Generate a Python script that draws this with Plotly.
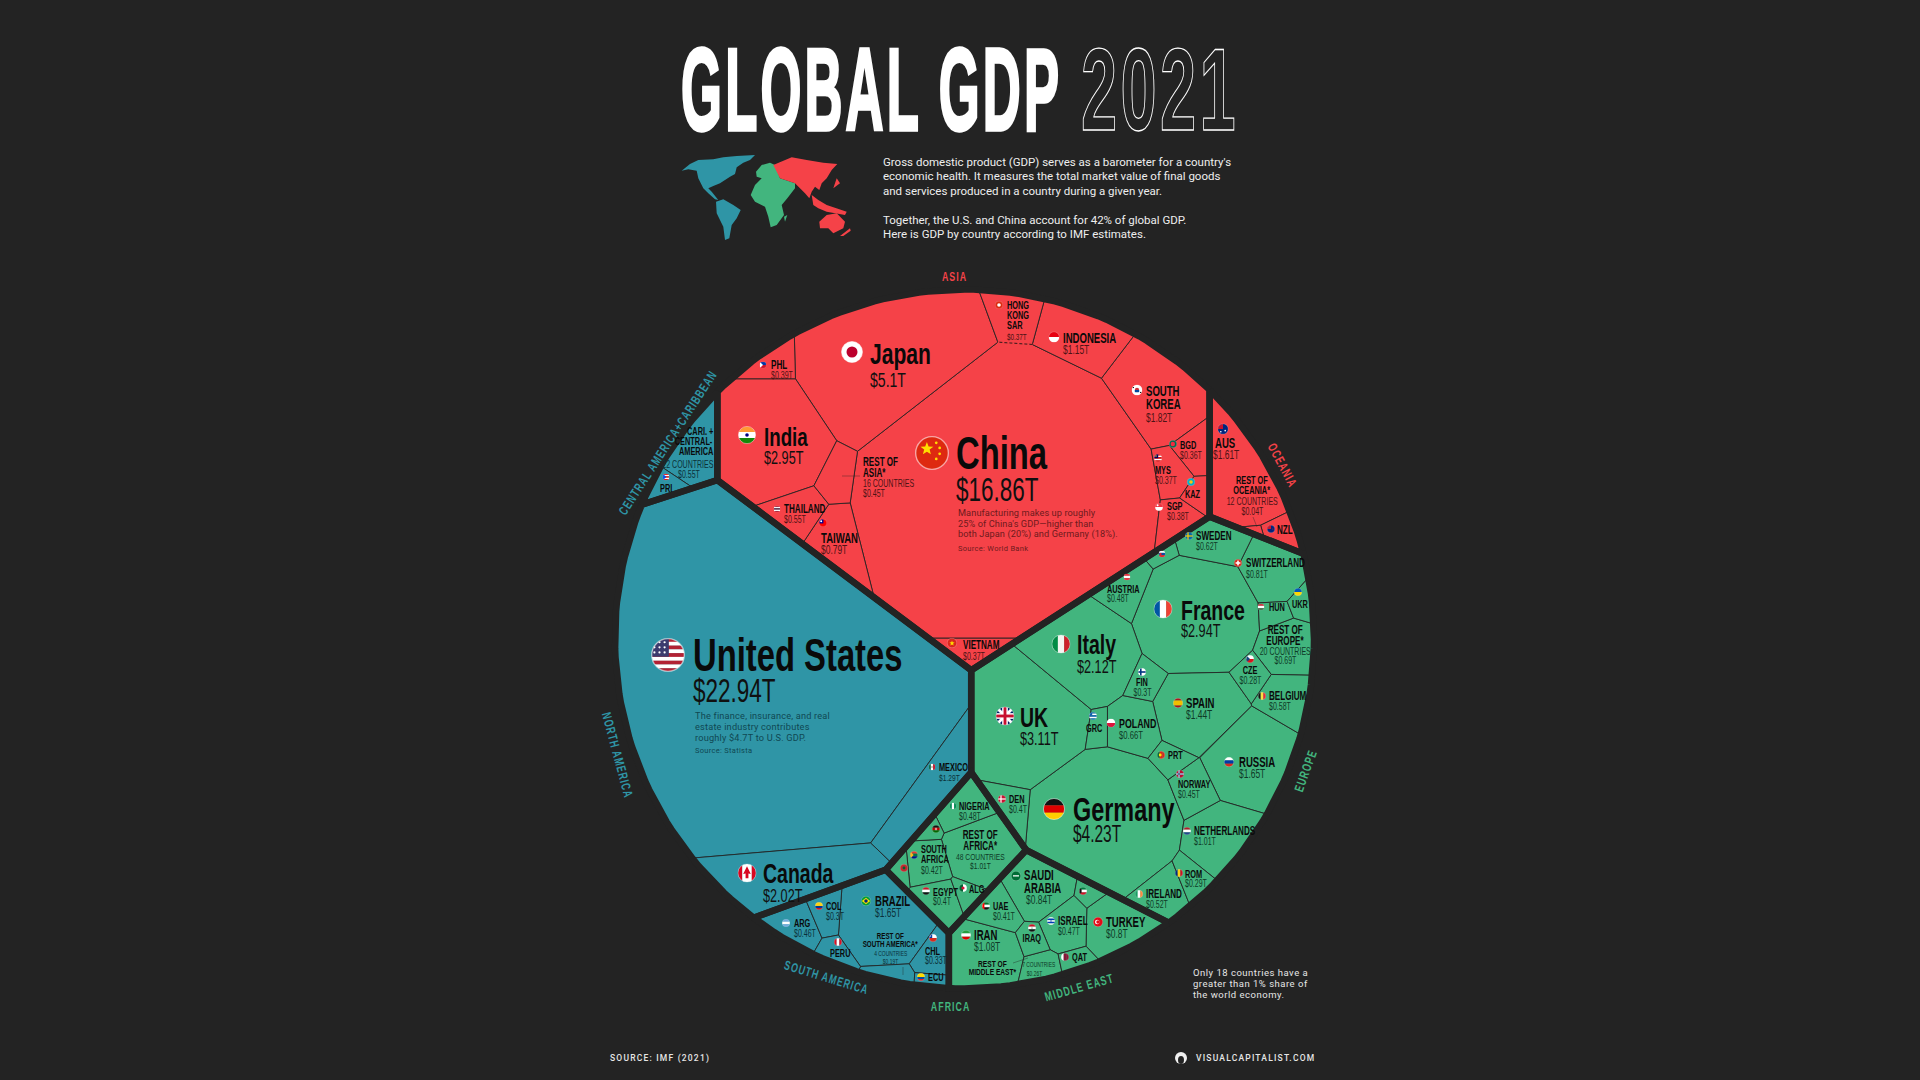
import numpy as np
import plotly.graph_objects as go
from urllib.parse import quote

# ---- data (GDP, trillions of USD) ----
REGIONS = ["Asia", "Oceania", "Europe", "North America", "Central America", "South America", "Africa", "Middle East"]

asia_names = ["China", "Japan", "India", "SOUTH KOREA", "INDONESIA", "TAIWAN", "THAILAND", "REST OF ASIA*", "PHL",
              "HONG KONG SAR", "BGD", "MYS", "SGP", "KAZ", "VIETNAM"]
asia_gdp = [16.86, 5.1, 2.95, 1.82, 1.15, 0.79, 0.55, 0.45, 0.39, 0.37, 0.36, 0.37, 0.38, 0.2, 0.37]

oceania_names = ["AUS", "NZL", "REST OF OCEANIA*"]
oceania_gdp = [1.61, 0.24, 0.04]

europe_names = ["Germany", "UK", "France", "Italy", "RUSSIA", "SPAIN", "NETHERLANDS", "SWITZERLAND", "REST OF EUROPE*",
                "POLAND", "SWEDEN", "BELGIUM", "IRELAND", "AUSTRIA", "NORWAY", "DEN", "FIN", "ROM", "CZE", "PRT",
                "GRC", "HUN", "UKR", "SVK"]
europe_gdp = [4.23, 3.11, 2.94, 2.12, 1.65, 1.44, 1.01, 0.81, 0.69, 0.66, 0.62, 0.58, 0.52, 0.48, 0.45, 0.4, 0.3,
              0.29, 0.28, 0.25, 0.19, 0.18, 0.18, 0.12]

north_america_names = ["United States", "Canada", "MEXICO"]
north_america_gdp = [22.94, 2.02, 1.29]

central_names = ["CARI. + CENTRAL- AMERICA", "PRI"]
central_gdp = [0.55, 0.15]

south_america_names = ["BRAZIL", "ARG", "CHL", "COL", "REST OF SOUTH AMERICA*", "PERU", "ECU"]
south_america_gdp = [1.65, 0.46, 0.33, 0.3, 0.19, 0.22, 0.11]

africa_names = ["REST OF AFRICA*", "NIGERIA", "SOUTH AFRICA", "EGYPT", "ALG", "MOR", "KEN"]
africa_gdp = [1.01, 0.48, 0.42, 0.4, 0.17, 0.13, 0.11]

middle_east_names = ["IRAN", "SAUDI ARABIA", "TURKEY", "ISRAEL", "UAE", "REST OF MIDDLE EAST*", "IRAQ", "QAT", "KWT"]
middle_east_gdp = [1.08, 0.84, 0.8, 0.47, 0.41, 0.26, 0.2, 0.17, 0.14]

REGION_DATA = {
    "Asia": (asia_names, asia_gdp),
    "Oceania": (oceania_names, oceania_gdp),
    "Europe": (europe_names, europe_gdp),
    "North America": (north_america_names, north_america_gdp),
    "Central America": (central_names, central_gdp),
    "South America": (south_america_names, south_america_gdp),
    "Africa": (africa_names, africa_gdp),
    "Middle East": (middle_east_names, middle_east_gdp),
}

# ---- layout and style (pixels of the 1920x1080 page) ----
BG = "#232323"
RED, TEAL, GREEN = "#f54248", "#2f95a6", "#42b57e"
REGION_COLOR = {"Asia": RED, "Oceania": RED, "Europe": GREEN, "Africa": GREEN, "Middle East": GREEN,
                "North America": TEAL, "Central America": TEAL, "South America": TEAL}
VALUE_COLOR = {RED: "#4d1315", TEAL: "#0b3139", GREEN: "#0e3b27"}
NOTE_COLOR = {RED: "#6e1a1d", TEAL: "#0f4853"}
NARROW = "Liberation Sans, sans-serif"
BODY = "Roboto, sans-serif"
CENTER = (964.5, 639.0)
RADIUS = 349.5

# the original draws these cells larger than their value alone would give
CELL_SCALE = {"HONG KONG SAR": 1.7}
REGION_SCALE = {"Central America": 1.4}

# where each weighted Voronoi cell is seeded; the sizes come from the GDP values
REGION_SEEDS = {"Asia": (988, 345), "Oceania": (1316, 345), "Europe": (1191, 660), "North America": (752, 660),
                "Central America": (649, 345), "South America": (850, 930), "Africa": (948, 832),
                "Middle East": (1053, 930)}
SEEDS = {
    "China": (1000, 500), "Japan": (895, 365), "India": (775, 445), "PHL": (775, 368), "REST OF ASIA*": (838, 477),
    "THAILAND": (797, 510), "TAIWAN": (842, 540), "VIETNAM": (1000, 650), "HONG KONG SAR": (1012, 322),
    "INDONESIA": (1078, 340), "SOUTH KOREA": (1150, 395), "BGD": (1190, 450), "MYS": (1165, 470), "KAZ": (1192, 488),
    "SGP": (1170, 520),
    "AUS": (1245, 450), "NZL": (1280, 522), "REST OF OCEANIA*": (1252, 530),
    "SWEDEN": (1207, 540), "SVK": (1162, 553), "SWITZERLAND": (1268, 570), "AUSTRIA": (1125, 585), "France": (1193, 612),
    "Italy": (1080, 652), "UK": (1028, 715), "Germany": (1105, 820), "GRC": (1094, 725), "POLAND": (1132, 725),
    "FIN": (1141, 680), "SPAIN": (1195, 710), "PRT": (1173, 757), "NORWAY": (1193, 785), "RUSSIA": (1245, 760),
    "NETHERLANDS": (1222, 838), "CZE": (1249, 672), "BELGIUM": (1283, 695), "REST OF EUROPE*": (1284, 645),
    "HUN": (1270, 608), "UKR": (1298, 597), "IRELAND": (1160, 890), "ROM": (1190, 878), "DEN": (1010, 812),
    "United States": (780, 650), "Canada": (800, 885), "MEXICO": (925, 755),
    "CARI. + CENTRAL- AMERICA": (695, 445), "PRI": (665, 490),
    "BRAZIL": (887, 917), "REST OF SOUTH AMERICA*": (890, 973), "ARG": (800, 927), "COL": (833, 913), "PERU": (840, 950),
    "CHL": (930, 948), "ECU": (928, 975),
    "NIGERIA": (970, 810), "KEN": (933, 828), "SOUTH AFRICA": (935, 865), "MOR": (905, 868), "EGYPT": (942, 900),
    "ALG": (970, 890), "REST OF AFRICA*": (985, 850),
    "SAUDI ARABIA": (1035, 885), "KWT": (1090, 895), "ISRAEL": (1063, 922), "TURKEY": (1110, 923), "UAE": (997, 907),
    "IRAN": (985, 952), "IRAQ": (1032, 935), "REST OF MIDDLE EAST*": (1040, 965), "QAT": (1073, 958),
}

# flag (x, y, r), name (x, y, size), value (x, y, size), anchor
LABELS = {
    "United States": ((668, 655, 17), (692, 655, 42), (692, 690, 32)),
    "China": ((932, 453, 17), (955, 453, 42), (955, 489, 32)),
    "Japan": ((852, 352, 11), (869, 353, 27), (869, 379, 20)),
    "India": ((747, 435, 9), (763, 437, 24), (763, 457, 18)),
    "PHL": ((763, 365, 3.5), (770, 365, 11), (770, 375, 10)),
    "REST OF ASIA*": (None, (862, 462, 11), (862, 493, 10)),
    "THAILAND": ((777, 509, 3.5), (783, 509, 11), (783, 519, 10)),
    "TAIWAN": ((823, 523, 4), (820, 538, 13), (820, 550, 12)),
    "VIETNAM": ((952, 643, 5), (962, 645, 11), (962, 656, 10)),
    "HONG KONG SAR": ((999, 305, 4), (1006, 305, 10), (1006, 336, 9)),
    "INDONESIA": ((1054, 337, 5.5), (1062, 338, 13), (1062, 350, 12)),
    "SOUTH KOREA": ((1137, 390, 5.5), (1145, 391, 13), (1145, 418, 12)),
    "BGD": ((1173, 444, 4), (1179, 445, 10), (1179, 455, 10)),
    "MYS": ((1158, 458, 4), (1154, 470, 10), (1154, 480, 10)),
    "KAZ": ((1191, 482, 4), (1184, 494, 10), None),
    "SGP": ((1159, 507, 4), (1166, 506, 10), (1166, 516, 10)),
    "AUS": ((1223, 429, 5.5), (1214, 443, 13), (1212, 455, 12)),
    "REST OF OCEANIA*": (None, (1252, 480, 10), (1252, 511, 10), "center"),
    "NZL": ((1271, 529, 4), (1276, 530, 11), None),
    "SWEDEN": ((1189, 536, 4), (1195, 536, 11), (1195, 546, 10)),
    "SVK": ((1162, 554, 3.5), None, None),
    "SWITZERLAND": ((1238, 563, 4), (1245, 563, 11), (1245, 574, 10)),
    "AUSTRIA": ((1127, 577, 3.5), (1106, 589, 10), (1106, 598, 10)),
    "France": ((1163, 609, 9.5), (1180, 610, 25), (1180, 630, 18)),
    "Italy": ((1061, 644, 9.5), (1076, 644, 25), (1076, 666, 18)),
    "UK": ((1005, 716, 9.5), (1019, 717, 25), (1019, 738, 18)),
    "HUN": ((1261, 607, 3.5), (1268, 607, 10), None),
    "UKR": ((1298, 592, 4), (1291, 604, 10), None),
    "REST OF EUROPE*": (None, (1285, 630, 11), (1285, 660, 10), "center"),
    "FIN": ((1142, 672, 4), (1142, 682, 10), (1142, 692, 10), "center"),
    "CZE": ((1250, 659, 4), (1250, 670, 10), (1250, 680, 10), "center"),
    "BELGIUM": ((1262, 696, 4), (1268, 696, 11), (1268, 706, 10)),
    "SPAIN": ((1178, 703, 5), (1185, 703, 13), (1185, 715, 12)),
    "GRC": ((1093, 716, 4), (1094, 728, 10), None, "center"),
    "POLAND": ((1111, 723, 4.5), (1118, 723, 12), (1118, 735, 11)),
    "PRT": ((1161, 755, 4), (1167, 755, 10), None),
    "RUSSIA": ((1229, 762, 5), (1238, 762, 13), (1238, 774, 12)),
    "NORWAY": ((1180, 774, 4), (1177, 784, 10), (1177, 794, 10)),
    "Germany": ((1054, 809, 11), (1072, 809, 30), (1072, 834, 22)),
    "DEN": ((1002, 799, 4), (1008, 799, 10), (1008, 809, 10)),
    "NETHERLANDS": ((1187, 831, 4), (1193, 831, 11), (1193, 841, 10)),
    "ROM": ((1179, 873, 4), (1184, 874, 10), (1184, 883, 10)),
    "IRELAND": ((1139, 894, 4), (1145, 894, 11), (1145, 904, 10)),
    "TURKEY": ((1098, 922, 5), (1105, 922, 13), (1105, 934, 12)),
    "ISRAEL": ((1051, 921, 4), (1057, 921, 11), (1057, 931, 10)),
    "KWT": ((1083, 891, 4), None, None),
    "SAUDI ARABIA": ((1016, 876, 5), (1023, 875, 13), (1025, 900, 12)),
    "UAE": ((986, 906, 4), (992, 906, 10), (992, 916, 10)),
    "IRAQ": ((1032, 928, 4), (1032, 938, 10), None, "center"),
    "IRAN": ((966, 935, 5), (973, 935, 13), (973, 947, 12)),
    "QAT": ((1065, 957, 4), (1071, 957, 10), None),
    "REST OF MIDDLE EAST*": (None, (992, 963, 9), (1034, 973, 7), "center"),
    "NIGERIA": ((953, 806, 3.5), (958, 806, 10), (958, 816, 10)),
    "KEN": ((936, 829, 4), None, None),
    "REST OF AFRICA*": (None, (980, 835, 11), (980, 865, 9.5), "center"),
    "SOUTH AFRICA": ((914, 855, 4), (920, 849, 10), (920, 870, 10)),
    "MOR": ((904, 868, 4), None, None),
    "EGYPT": ((926, 891, 4), (932, 892, 10), (932, 901, 10)),
    "ALG": ((963, 888, 4), (968, 889, 10), None),
    "BRAZIL": ((866, 901, 5), (874, 901, 13), (874, 913, 12)),
    "COL": ((819, 906, 4), (825, 906, 10), (825, 916, 10)),
    "ARG": ((786, 923, 4), (793, 923, 10), (793, 933, 10)),
    "PERU": ((838, 942, 4), (840, 953, 10), None, "center"),
    "REST OF SOUTH AMERICA*": (None, (890, 936, 8.5), (890, 961, 7), "center"),
    "CHL": ((933, 938, 4), (924, 951, 10), (924, 960, 10)),
    "ECU": ((921, 977, 4), (927, 977, 10), None),
    "Canada": ((747, 873, 9.5), (762, 873, 25), (762, 895, 18)),
    "MEXICO": ((932, 767, 3.5), (938, 767, 10), (938, 777, 9.5)),
    "CARI. + CENTRAL- AMERICA": (None, (714, 431, 10), (677, 474, 10), "right"),
    "PRI": ((666, 477, 3.5), (666, 488, 10), None, "center"),
}
LINE_BREAKS = {
    "HONG KONG SAR": ["HONG", "KONG", "SAR"], "SOUTH KOREA": ["SOUTH", "KOREA"], "REST OF ASIA*": ["REST OF", "ASIA*"],
    "REST OF OCEANIA*": ["REST OF", "OCEANIA*"], "REST OF EUROPE*": ["REST OF", "EUROPE*"],
    "SAUDI ARABIA": ["SAUDI", "ARABIA"], "REST OF MIDDLE EAST*": ["REST OF", "MIDDLE EAST*"],
    "REST OF AFRICA*": ["REST OF", "AFRICA*"], "SOUTH AFRICA": ["SOUTH", "AFRICA"],
    "REST OF SOUTH AMERICA*": ["REST OF", "SOUTH AMERICA*"], "CARI. + CENTRAL- AMERICA": ["CARI. +", "CENTRAL-", "AMERICA"],
}
# extra small line of the grouped cells: text, x, y, size
GROUP_LINES = {
    "REST OF ASIA*": ("16 COUNTRIES", 862, 483, 10), "REST OF OCEANIA*": ("12 COUNTRIES", 1252, 501, 10),
    "REST OF EUROPE*": ("20 COUNTRIES", 1285, 651, 10), "REST OF AFRICA*": ("48 COUNTRIES", 980, 856, 9.5),
    "REST OF MIDDLE EAST*": ("7 COUNTRIES", 1038, 964, 7), "REST OF SOUTH AMERICA*": ("4 COUNTRIES", 890, 953, 7),
    "CARI. + CENTRAL- AMERICA": ("22 COUNTRIES", 714, 464, 10),
}
RIGHT_VALUE = {"CARI. + CENTRAL- AMERICA"}
# thin pointers from a label to its tiny cell
LEADERS = [((842, 860), (476, 476)), ((1253, 1257), (517, 527)), ((1013, 1028), (963, 958)), ((903, 903), (967, 975))]

REGION_LABELS = [("ASIA", 955, 276, 0, RED), ("OCEANIA", 1283, 465, 62, RED), ("EUROPE", 1305, 771, -70, GREEN),
                 ("MIDDLE EAST", 1079, 987, -16, GREEN), ("AFRICA", 951, 1006, 0, GREEN),
                 ("SOUTH AMERICA", 827, 977, 17, TEAL), ("NORTH AMERICA", 618, 755, 75, TEAL),
                 ("CENTRAL AMERICA+CARIBBEAN", 667, 443, -57, TEAL)]

# decorative world map, traced in a 3x crop of the title block
MAP_SHAPES = [
    (TEAL, [(5, 62), (30, 42), (55, 30), (100, 28), (130, 22), (170, 18), (225, 15), (210, 30), (190, 38), (170, 52),
            (165, 72), (150, 80), (135, 90), (120, 100), (100, 108), (85, 115), (95, 125), (115, 150), (105, 148),
            (85, 130), (70, 115), (55, 85), (50, 62), (25, 58)]),
    (TEAL, [(108, 155), (130, 148), (160, 165), (182, 180), (170, 205), (155, 225), (148, 265), (135, 270), (130, 230),
            (110, 190)]),
    (GREEN, [(228, 65), (245, 45), (270, 38), (285, 45), (300, 85), (345, 100), (345, 115), (322, 145), (305, 165),
             (312, 195), (290, 225), (272, 232), (265, 200), (255, 170), (225, 155), (212, 135), (225, 105), (245, 85),
             (230, 80)]),
    (GREEN, [(312, 200), (322, 195), (315, 215)]),
    (RED, [(280, 45), (335, 22), (380, 30), (430, 38), (472, 42), (455, 60), (440, 85), (425, 100), (418, 120),
           (405, 110), (395, 125), (388, 145), (375, 130), (345, 100), (300, 85)]),
    (RED, [(395, 135), (415, 150), (440, 165), (500, 185), (495, 195), (440, 185), (415, 175), (400, 165)]),
    (RED, [(418, 215), (440, 195), (470, 190), (495, 215), (490, 235), (460, 250), (445, 235), (420, 235)]),
    (RED, [(480, 258), (510, 235), (512, 242), (490, 258)]),
    (RED, [(470, 85), (480, 100), (460, 115)]),
]

# flags: stripe direction and colours, plus a small svg extra for some of them
FLAGS = {
    "United States": "h #b22234 #fff #b22234 #fff #b22234 #fff #b22234 #fff #b22234", "China": "h #de2910", "Japan": "h #fff",
    "India": "h #ff9933 #fff #138808", "PHL": "h #0038a8 #ce1126", "THAILAND": "h #a51931 #f4f5f8 #2d2a4a #f4f5f8 #a51931",
    "TAIWAN": "h #fe0000", "VIETNAM": "h #da251d", "HONG KONG SAR": "h #de2910", "INDONESIA": "h #e70011 #fff",
    "SOUTH KOREA": "h #fff", "BGD": "h #006a4e", "MYS": "h #cc0001 #fff #cc0001 #fff #cc0001", "KAZ": "h #00afca",
    "SGP": "h #ef3340 #fff", "AUS": "h #00247d", "NZL": "h #00247d", "SWEDEN": "h #006aa7", "SVK": "h #fff #0b4ea2 #ee1c25",
    "SWITZERLAND": "h #d52b1e", "AUSTRIA": "h #ed2939 #fff #ed2939", "France": "v #0055a4 #fff #ef4135",
    "Italy": "v #008c45 #f4f5f0 #cd212a", "UK": "h #012169", "HUN": "h #ce2939 #fff #477050", "UKR": "h #0057b7 #ffd700",
    "FIN": "h #fff", "CZE": "h #fff #d7141a", "BELGIUM": "v #111 #fae042 #ed2939", "SPAIN": "h #aa151b #f1bf00 #f1bf00 #aa151b",
    "GRC": "h #0d5eaf #fff #0d5eaf #fff #0d5eaf", "POLAND": "h #fff #dc143c", "PRT": "v #046a38 #da291c #da291c",
    "RUSSIA": "h #fff #0039a6 #d52b1e", "NORWAY": "h #ba0c2f", "Germany": "h #111 #dd0000 #ffce00", "DEN": "h #c8102e",
    "NETHERLANDS": "h #ae1c28 #fff #21468b", "ROM": "v #002b7f #fcd116 #ce1126", "IRELAND": "v #169b62 #fff #ff883e",
    "TURKEY": "h #e30a17", "ISRAEL": "h #fff #0038b8 #fff #0038b8 #fff", "KWT": "h #007a3d #fff #ce1126",
    "SAUDI ARABIA": "h #006c35", "UAE": "h #00732f #fff #111", "IRAQ": "h #ce1126 #fff #111", "IRAN": "h #239f40 #fff #da0000",
    "QAT": "v #fff #8a1538 #8a1538", "NIGERIA": "v #008751 #fff #008751", "KEN": "h #111 #bb0000 #006600",
    "SOUTH AFRICA": "h #e03c31 #007749 #001489", "MOR": "h #c1272d", "EGYPT": "h #ce1126 #fff #111", "ALG": "v #006233 #fff",
    "BRAZIL": "h #009c3b", "COL": "h #fcd116 #fcd116 #003893 #ce1126", "ARG": "h #74acdf #fff #74acdf",
    "PERU": "v #d91023 #fff #d91023", "CHL": "h #fff #d52b1e", "ECU": "h #ffdd00 #ffdd00 #034ea2 #ed1c24",
    "Canada": "v #d80621 #fff #fff #d80621", "MEXICO": "v #006847 #fff #ce1126", "PRI": "h #ed0000 #fff #ed0000 #fff #ed0000",
}


def star(cx, cy, r):
    pts = []
    for i in range(10):
        rr = r if i % 2 == 0 else r * 0.42
        ang = -np.pi / 2 + i * np.pi / 5
        pts.append(f"{cx + rr * np.cos(ang):.1f},{cy + rr * np.sin(ang):.1f}")
    return f'<polygon points="{" ".join(pts)}" fill="#ffde00"/>'


def rect(x, y, w, h, c):
    return f'<rect x="{x}" y="{y}" width="{w}" height="{h}" fill="{c}"/>'


def dot(x, y, r, c):
    return f'<circle cx="{x}" cy="{y}" r="{r}" fill="{c}"/>'


def cross(x, c, w=6):
    return rect(x - w / 2, 0, w, 40, c) + rect(0, 20 - w / 2, 40, w, c)


FLAG_EXTRA = {
    "United States": rect(0, 0, 21, 22, "#3c3b6e") + "".join(dot(x, y, 1.3, "#fff") for x in (4, 10, 16) for y in (5, 11, 17)),
    "China": star(14, 15, 8) + "".join(dot(x, y, 1.6, "#ffde00") for x, y in ((25, 8), (29, 14), (29, 21), (25, 27))),
    "Japan": dot(20, 20, 10, "#bc002d"), "India": dot(20, 20, 4, "#000080"),
    "PHL": '<polygon points="0,0 20,20 0,40" fill="#fff"/>', "TAIWAN": rect(0, 0, 22, 22, "#000095") + dot(11, 11, 5, "#fff"),
    "VIETNAM": star(20, 21, 11), "HONG KONG SAR": dot(20, 20, 9, "#fff"),
    "SOUTH KOREA": dot(20, 20, 8, "#cd2e3a") + rect(12, 20, 16, 8, "#0047a0") + rect(3, 9, 6, 4, "#111") + rect(31, 27, 6, 4, "#111"),
    "BGD": dot(19, 20, 11, "#f42a41"), "MYS": rect(0, 0, 21, 21, "#010066") + dot(10, 10, 4, "#fc0"),
    "KAZ": dot(20, 20, 9, "#fec50c"), "SGP": dot(13, 11, 5, "#fff"),
    "AUS": rect(0, 0, 20, 20, "#c8102e") + dot(28, 26, 3, "#fff") + dot(12, 30, 3, "#fff"),
    "NZL": rect(0, 0, 20, 20, "#cc142b") + dot(29, 20, 3, "#cc142b"), "SWEDEN": cross(15, "#fecc00"),
    "SVK": dot(12, 20, 6, "#ee1c25"), "SWITZERLAND": rect(16, 8, 8, 24, "#fff") + rect(8, 16, 24, 8, "#fff"),
    "UK": cross(20, "#fff", 12) + '<path d="M0 0L40 40M40 0L0 40" stroke="#fff" stroke-width="6"/>' + cross(20, "#c8102e", 6),
    "FIN": cross(14, "#003580", 8), "CZE": '<polygon points="0,0 20,20 0,40" fill="#11457e"/>',
    "GRC": rect(0, 0, 16, 16, "#0d5eaf"), "PRT": dot(16, 20, 7, "#ffe900"), "NORWAY": cross(15, "#fff", 9) + cross(15, "#00205b", 4),
    "DEN": cross(15, "#fff", 6), "TURKEY": dot(17, 20, 9, "#fff") + dot(20, 20, 7, "#e30a17"), "KWT": '<polygon points="0,0 13,13 13,27 0,40" fill="#111"/>',
    "SAUDI ARABIA": rect(8, 17, 24, 5, "#fff"), "UAE": rect(0, 0, 12, 40, "#f00"), "IRAQ": dot(20, 20, 3, "#007a3d"),
    "MOR": dot(20, 20, 7, "#006233"), "ALG": dot(20, 20, 8, "#d21034"), "BRAZIL": '<polygon points="3,20 20,7 37,20 20,33" fill="#ffdf00"/>' + dot(20, 20, 7, "#002776"),
    "CHL": rect(0, 0, 16, 20, "#0039a6") + dot(8, 10, 3, "#fff"), "Canada": '<polygon points="20,6 28,22 23,21 23,31 17,31 17,21 12,22" fill="#d80621"/>',
    "PRI": '<polygon points="0,0 22,20 0,40" fill="#0050f0"/>', "MEXICO": dot(20, 20, 4, "#8a5a2b"),
    "KEN": dot(20, 20, 6, "#fff") + dot(20, 20, 4, "#bb0000"), "SOUTH AFRICA": '<polygon points="0,0 18,20 0,40" fill="#ffb81c"/>',
    "ISRAEL": dot(20, 20, 3.5, "#0038b8"),
}


def flag_uri(name):
    parts = FLAGS[name].split()
    kind, colors = parts[0], parts[1:]
    n = len(colors)
    body = ""
    for i, c in enumerate(colors):
        if kind == "h":
            body += rect(0, i * 40 / n, 40, 40 / n + 0.3, c)
        else:
            body += rect(i * 40 / n, 0, 40 / n + 0.3, 40, c)
    body += FLAG_EXTRA.get(name, "")
    svg = ('<svg xmlns="http://www.w3.org/2000/svg" viewBox="0 0 40 40"><clipPath id="c"><circle cx="20" cy="20" r="19"/>'
           f'</clipPath><g clip-path="url(#c)">{body}</g><circle cx="20" cy="20" r="19.2" fill="none" stroke="#fff" '
           'stroke-opacity=".55" stroke-width="1.6"/></svg>')
    return "data:image/svg+xml;charset=utf-8," + quote(svg)


# ---- weighted Voronoi layout ----
def clip(poly, a, b, c):
    d = poly[:, 0] * a + poly[:, 1] * b - c
    inside = d <= 0
    if inside.all():
        return poly
    if not inside.any():
        return poly[:0]
    crossing = np.nonzero(inside != np.roll(inside, -1))[0]
    if len(crossing) != 2:
        return poly[inside]
    n = len(poly)
    i, j = crossing

    def cut(k):
        k2 = (k + 1) % n
        return poly[k] + d[k] / (d[k] - d[k2]) * (poly[k2] - poly[k])

    if inside[i]:
        keep = np.arange(j + 1, i + n + 1) % n
        return np.vstack([poly[keep], cut(i), cut(j)])
    keep = np.arange(i + 1, j + 1)
    return np.vstack([poly[keep], cut(j), cut(i)])


def area_of(poly):
    if len(poly) < 3:
        return 0.0
    x, y = poly[:, 0], poly[:, 1]
    return 0.5 * abs(np.dot(x, np.roll(y, -1)) - np.dot(y, np.roll(x, -1)))


def power_cells(sites, weights, bound):
    cells = []
    sq = (sites ** 2).sum(axis=1)
    for i in range(len(sites)):
        poly = bound
        for j in range(len(sites)):
            if j == i:
                continue
            poly = clip(poly, 2 * (sites[j, 0] - sites[i, 0]), 2 * (sites[j, 1] - sites[i, 1]),
                        sq[j] - sq[i] - weights[j] + weights[i])
            if len(poly) == 0:
                break
        cells.append(poly)
    return cells


def fit_cells(sites, values, bound, iterations=500):
    sites = np.array(sites, dtype=float)
    values = np.array(values, dtype=float)
    targets = values / values.sum() * area_of(bound)
    dist = np.sqrt(((sites[:, None] - sites[None]) ** 2).sum(axis=2))
    spacing = np.sort(dist, axis=1)[:, 1:4].mean(axis=1)
    weights = np.zeros(len(sites))
    rate = np.full(len(sites), 0.4)
    last = np.zeros(len(sites))
    best, best_err = None, np.inf
    for _ in range(iterations):
        cells = power_cells(sites, weights, bound)
        areas = np.array([area_of(c) for c in cells])
        err = (targets - areas) / targets
        worst = np.abs(err).max()
        if worst < best_err:
            best, best_err = cells, worst
        if worst < 0.008:
            break
        flipped = err * last < 0
        rate = np.where(flipped, rate * 0.7, np.minimum(0.4, rate * 1.05))
        last = err
        weights = weights + rate * (targets - areas) * spacing / np.maximum(np.sqrt(areas), 0.4 * np.sqrt(targets))
    return best


angles = np.linspace(0, 2 * np.pi, 240, endpoint=False)
disc = np.column_stack([CENTER[0] + RADIUS * np.cos(angles), CENTER[1] + RADIUS * np.sin(angles)])

region_totals = [sum(REGION_DATA[r][1]) * REGION_SCALE.get(r, 1) for r in REGIONS]
region_cells = fit_cells([REGION_SEEDS[r] for r in REGIONS], region_totals, disc)

fig = go.Figure()
texts, images = [], []


# name carries "x squeeze:letter spacing" for the small script at the end of the file
def add_text(text, x, y, size, color, anchor="left", family=NARROW, weight=400, angle=0, sx=None, spacing=0):
    if sx is None:
        sx = 1
        if family == NARROW:
            sx = 0.71 if size >= 20 and weight == 700 else 0.67
    texts.append(dict(x=x, y=y, xref="x", yref="y", text=text, showarrow=False, xanchor=anchor, yanchor="middle",
                      align=anchor, borderpad=0, textangle=angle, name=f"{sx}:{spacing}",
                      font=dict(family=family, size=size, color=color, weight=weight)))


def closed(poly):
    return np.vstack([poly, poly[:1]])


for region, region_poly in zip(REGIONS, region_cells):
    names, gdp = REGION_DATA[region]
    color = REGION_COLOR[region]
    cell_values = [v * CELL_SCALE.get(n, 1) for n, v in zip(names, gdp)]
    cells = fit_cells([SEEDS[n] for n in names], cell_values, region_poly, 400)
    for name, value, poly in zip(names, gdp, cells):
        ring = closed(poly)
        fig.add_trace(go.Scatter(x=ring[:, 0], y=ring[:, 1], mode="lines", fill="toself", fillcolor=color,
                                 line=dict(color="rgba(35,35,35,0.85)", width=1), hoverinfo="text",
                                 text=f"{name}: ${value}T", showlegend=False))
        if name == "HONG KONG SAR":
            hk_ring = ring
        spec = LABELS[name]
        flag_pos, name_pos, value_pos = spec[:3]
        anchor = spec[3] if len(spec) > 3 else "left"
        if flag_pos:
            fx, fy, fr = flag_pos
            images.append(dict(source=flag_uri(name), xref="x", yref="y", x=fx, y=fy, sizex=2 * fr, sizey=2 * fr,
                               xanchor="center", yanchor="middle", layer="above", sizing="contain"))
        if name_pos:
            nx, ny, ns = name_pos
            for k, line in enumerate(LINE_BREAKS.get(name, [name])):
                add_text(line, nx, ny + k * ns * 0.98, ns * 1.1, "#0a0a0a", anchor, weight=700)
        if value_pos:
            vx, vy, vs = value_pos
            vcolor = "#101010" if vs >= 18 else VALUE_COLOR[color]
            v_anchor = "left" if name in RIGHT_VALUE else anchor
            add_text(f"${value:g}T", vx, vy, vs * 1.05, vcolor, v_anchor)
        if name in GROUP_LINES:
            gt, gx, gy, gs = GROUP_LINES[name]
            add_text(gt, gx, gy, gs * 1.05, VALUE_COLOR[color], "right" if name in RIGHT_VALUE else anchor)

# the edge between Hong Kong and China is dashed in the original
edge_mid = (hk_ring[:-1, 1] + hk_ring[1:, 1]) / 2
low = int(np.argmax(edge_mid))
for dash, col, width in (("solid", RED, 2), ("3px,2px", "#3a1a1b", 1)):
    fig.add_trace(go.Scatter(x=hk_ring[low:low + 2, 0], y=hk_ring[low:low + 2, 1], mode="lines",
                             line=dict(color=col, width=width, dash=dash), hoverinfo="skip", showlegend=False))

for xs, ys in LEADERS:
    fig.add_trace(go.Scatter(x=xs, y=ys, mode="lines", line=dict(color="rgba(35,35,35,0.55)", width=0.7),
                             hoverinfo="skip", showlegend=False))

for region, region_poly in zip(REGIONS, region_cells):
    ring = closed(region_poly)
    fig.add_trace(go.Scatter(x=ring[:, 0], y=ring[:, 1], mode="lines", line=dict(color=BG, width=6.5),
                             hoverinfo="skip", showlegend=False))

# ---- titles, notes ----
add_text("GLOBAL GDP", 871.5, 90, 116, "#ffffff", "center", weight=700, sx=0.453, spacing=7)
add_text("2021", 1160, 90, 116, "#ffffff", "center", weight=700, sx=0.56, spacing=6)

intro = ["Gross domestic product (GDP) serves as a barometer for a country's",
         "economic health. It measures the total market value of final goods",
         "and services produced in a country during a given year.", "",
         "Together, the U.S. and China account for 42% of global GDP.",
         "Here is GDP by country according to IMF estimates."]
for i, line in enumerate(intro):
    if line:
        add_text(line, 882, 162 + i * 14.4, 11.5, "#eeeeee", family=BODY)

for i, line in enumerate(["The finance, insurance, and real", "estate industry contributes", "roughly $4.7T to U.S. GDP."]):
    add_text(line, 694, 715 + i * 11, 9.2, NOTE_COLOR[TEAL], family=BODY, spacing=0.2)
add_text("Source: Statista", 694, 750, 7.5, NOTE_COLOR[TEAL], family=BODY, spacing=0.3)

for i, line in enumerate(["Manufacturing makes up roughly", "25% of China's GDP\u2014higher than", "both Japan (20%) and Germany (18%)."]):
    add_text(line, 957, 512 + i * 11, 9.2, NOTE_COLOR[RED], family=BODY, spacing=0.1)
add_text("Source: World Bank", 957, 548, 7.5, NOTE_COLOR[RED], family=BODY, spacing=0.3)

for i, line in enumerate(["Only 18 countries have a", "greater than 1% share of", "the world economy."]):
    add_text(line, 1192, 972 + i * 11, 9.5, "#e6e6e6", family=BODY, spacing=0.5)

add_text("SOURCE: IMF (2021)", 609, 1058, 8.5, "#e6e6e6", family=BODY, weight=500, spacing=1.2)
add_text("VISUALCAPITALIST.COM", 1195, 1058, 8.5, "#e6e6e6", family=BODY, weight=500, spacing=1.2)

for label, x, y, angle, color in REGION_LABELS:
    add_text(label, x, y, 13, color, "center", weight=700, angle=angle, sx=0.68, spacing=1.5)

shapes = []
for color, pts in MAP_SHAPES:
    path = "M" + "L".join(f"{680 + px / 3:.1f},{150 + py / 3:.1f}" for px, py in pts) + "Z"
    shapes.append(dict(type="path", path=path, xref="x", yref="y", fillcolor=color, line=dict(width=0)))
shapes.append(dict(type="circle", xref="x", yref="y", x0=1175, x1=1187, y0=1052, y1=1064, fillcolor="#f0f0f0", line=dict(width=0)))
shapes.append(dict(type="circle", xref="x", yref="y", x0=1178, x1=1184, y0=1056, y1=1064, fillcolor=BG, line=dict(width=0)))

fig.update_layout(
    width=1920, height=1080, margin=dict(l=0, r=0, t=0, b=0), paper_bgcolor=BG, plot_bgcolor=BG,
    xaxis=dict(range=[0, 1920], visible=False, fixedrange=True),
    yaxis=dict(range=[1080, 0], visible=False, fixedrange=True),
    annotations=texts, images=images, shapes=shapes, showlegend=False,
)

# the condensed face of the original is narrower than any installed font, so squeeze the text in the page
post = """
document.body.style.margin = '0';
document.body.style.background = '#232323';
var gd = document.getElementById('{plot_id}');
document.querySelectorAll('g.annotation').forEach(function (g) {
  var a = gd.layout.annotations[+g.getAttribute('data-index')];
  if (!a || !a.name) return;
  var p = a.name.split(':'), sx = +p[0], ls = +p[1];
  var el = g.querySelector('text.annotation-text');
  if (ls) el.style.letterSpacing = ls + 'px';
  if (a.text === 'GLOBAL GDP') { el.style.stroke = '#fff'; el.style.strokeWidth = '3.5px'; }
  if (a.text === '2021') { el.style.fill = 'none'; el.style.stroke = '#fff'; el.style.strokeWidth = '1.3px'; }
  if (sx === 1) return;
  var b = el.getBBox();
  var cx = a.xanchor === 'left' ? b.x : a.xanchor === 'right' ? b.x + b.width : b.x + b.width / 2;
  el.setAttribute('transform', 'translate(' + cx + ' 0) scale(' + sx + ' 1) translate(' + (-cx) + ' 0)');
});
"""
fig.write_html("out.html", post_script=post, config={"displayModeBar": False})
